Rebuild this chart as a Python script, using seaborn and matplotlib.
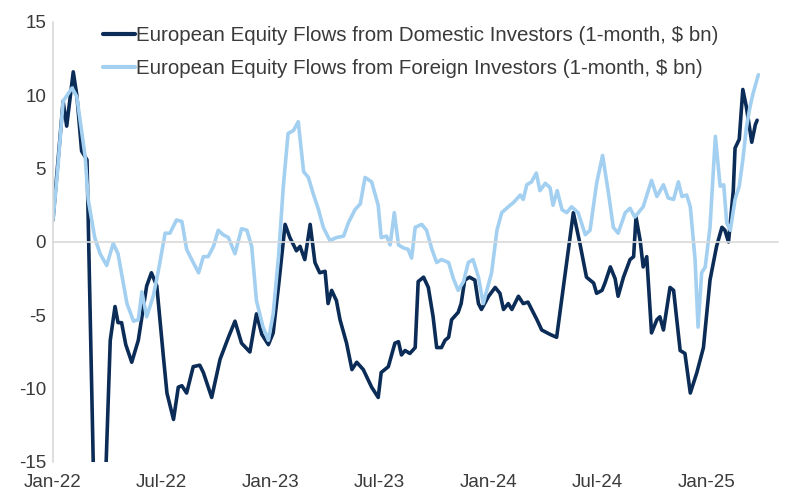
import numpy as np
import pandas as pd
import matplotlib
matplotlib.use("Agg")
import matplotlib.pyplot as plt
import matplotlib.dates as mdates
import seaborn as sns

START = "2022-01-01"

dom_days = [0, 17, 23, 34, 40, 48, 57, 70, 78, 85, 96, 104, 109, 115, 122, 132, 143, 157, 165, 174,
            185, 191, 202, 210, 216, 224, 235, 246, 252, 266, 280, 294, 305, 316, 330, 341, 350, 361,
            369, 378, 389, 397, 408, 414, 422, 431, 439, 447, 456, 461, 467, 475, 481, 492, 501, 509,
            520, 534, 545, 550, 562, 573, 579, 584, 590, 598, 607, 612, 621, 629, 637, 643, 651, 657,
            663, 668, 679, 684, 690, 698, 707, 713, 718, 730, 741, 749, 755, 763, 769, 780, 788, 796,
            811, 819, 833, 844, 872, 883, 894, 906, 911, 920, 925, 934, 942, 947, 956, 967, 973, 977,
            984, 989, 995, 1003, 1012, 1017, 1023, 1034, 1040, 1051, 1059, 1068, 1079, 1090, 1101,
            1112, 1121, 1126, 1132, 1140, 1143, 1150, 1156, 1162, 1171, 1177, 1180]
dom_vals = [1.5, 9.6, 7.9, 11.6, 10.0, 6.2, 5.6, -20.0, -22.0, -20.0, -6.7, -4.4, -5.5, -5.5, -7.0,
            -8.2, -6.7, -3.0, -2.1, -3.0, -7.8, -10.3, -12.1, -9.9, -9.8, -10.3, -8.5, -8.4, -8.9,
            -10.6, -8.0, -6.5, -5.4, -6.9, -7.5, -4.9, -6.3, -7.0, -6.2, -3.0, 1.2, 0.3, -0.6, -0.3,
            -1.2, 1.2, -1.4, -2.1, -2.0, -4.2, -3.3, -4.0, -5.3, -6.9, -8.7, -8.2, -8.7, -9.9, -10.6,
            -8.9, -8.5, -6.9, -6.8, -7.7, -7.4, -7.6, -7.2, -2.7, -2.4, -3.1, -5.1, -7.2, -7.2, -6.7,
            -6.5, -5.3, -4.8, -4.2, -2.6, -2.4, -2.6, -4.2, -4.6, -3.7, -3.1, -3.5, -4.6, -4.2, -4.6,
            -3.7, -4.2, -4.1, -5.3, -6.0, -6.3, -6.5, 2.0, -0.1, -2.4, -2.8, -3.5, -3.3, -2.8, -1.7,
            -2.5, -3.7, -2.4, -1.2, -1.0, 1.7, 0.1, -1.7, -1.0, -6.2, -5.3, -5.1, -6.0, -3.1, -3.3,
            -7.4, -7.6, -10.3, -8.9, -7.2, -2.6, -0.3, 1.0, 0.8, 0.0, 3.5, 6.4, 7.0, 10.4, 9.2, 6.8,
            8.0, 8.3]

for_days = [0, 7, 17, 32, 40, 54, 59, 70, 79, 90, 101, 109, 124, 135, 143, 149, 157, 168, 176, 188,
            196, 207, 216, 224, 230, 244, 252, 260, 269, 277, 285, 294, 305, 316, 325, 333, 341, 352,
            361, 369, 378, 386, 394, 403, 411, 420, 428, 436, 445, 453, 464, 475, 487, 495, 506, 515,
            523, 534, 545, 550, 559, 565, 572, 579, 587, 595, 601, 607, 618, 626, 635, 643, 651, 663,
            671, 679, 688, 696, 704, 713, 721, 735, 744, 752, 763, 772, 783, 788, 794, 802, 810, 816,
            825, 833, 838, 845, 853, 861, 869, 880, 892, 900, 911, 921, 931, 939, 947, 959, 967, 975,
            989, 1003, 1012, 1023, 1031, 1040, 1048, 1054, 1062, 1068, 1076, 1081, 1087, 1093, 1101,
            1110, 1118, 1124, 1129, 1135, 1143, 1150, 1156, 1162, 1168, 1173, 1182]
for_vals = [1.5, 4.5, 9.6, 10.5, 9.9, 5.8, 2.9, 0.3, -0.8, -1.6, -0.1, -0.8, -4.2, -5.4, -5.3, -3.4,
            -5.1, -3.7, -2.1, 0.6, 0.6, 1.5, 1.4, -0.5, -1.0, -2.1, -1.0, -1.0, -0.3, 0.8, 0.5, 0.3,
            -0.8, 0.9, 0.8, -0.3, -4.0, -5.8, -6.7, -4.9, -1.0, 3.8, 7.4, 7.6, 8.2, 4.8, 4.4, 3.3,
            2.2, 1.0, 0.1, 0.3, 0.4, 1.3, 2.2, 2.6, 4.4, 4.1, 2.5, 0.3, 0.4, -0.2, 2.0, -0.2, -0.4,
            -0.5, -1.1, 1.0, 1.2, 0.8, -0.5, -1.4, -1.2, -1.4, -2.5, -3.3, -2.7, -1.4, -1.2, -2.4,
            -4.2, -2.1, 0.8, 2.0, 2.4, 2.7, 3.2, 2.9, 3.9, 4.1, 4.7, 3.5, 4.0, 3.7, 2.5, 3.5, 2.2,
            2.0, 2.4, 2.0, 0.5, 0.8, 4.0, 5.9, 3.3, 1.0, 0.6, 2.0, 2.3, 1.7, 2.4, 4.2, 3.1, 3.9, 3.0,
            2.9, 4.1, 3.1, 3.2, 2.4, -1.2, -5.8, -2.1, -1.7, 1.0, 7.2, 3.8, 3.9, 1.3, 0.8, 2.9, 3.8,
            5.6, 7.8, 9.2, 10.1, 11.4]

series_names = ["European Equity Flows from Domestic Investors (1-month, $ bn)",
                "European Equity Flows from Foreign Investors (1-month, $ bn)"]
tick_dates = ["2022-01-01", "2022-07-01", "2023-01-01", "2023-07-01", "2024-01-01",
              "2024-07-01", "2025-01-01"]
tick_labels = ["Jan-22", "Jul-22", "Jan-23", "Jul-23", "Jan-24", "Jul-24", "Jan-25"]
y_ticks = [-15, -10, -5, 0, 5, 10, 15]

start = pd.Timestamp(START)
df_dom = pd.DataFrame({"date": start + pd.to_timedelta(dom_days, unit="D"), "value": dom_vals,
                       "series": series_names[0]})
df_for = pd.DataFrame({"date": start + pd.to_timedelta(for_days, unit="D"), "value": for_vals,
                       "series": series_names[1]})
df = pd.concat([df_dom, df_for], ignore_index=True)

sns.set_theme(style="white")
plt.rcParams["font.family"] = ["Liberation Sans", "DejaVu Sans"]

fig = plt.figure(figsize=(7.87, 4.95), dpi=100)
ax = fig.add_axes([0.0673, 0.0667, 0.9213, 0.8889])

palette = {series_names[0]: "#0b2c57", series_names[1]: "#a3d0f0"}
sns.lineplot(data=df, x="date", y="value", hue="series", palette=palette,
             linewidth=2.6, ax=ax, sort=False, estimator=None)

ax.set_ylim(-15, 15)
ax.set_xlim(start, start + pd.Timedelta(days=1215))
ax.set_yticks(y_ticks)
ax.set_yticklabels([str(v) for v in y_ticks])
ax.set_xlabel("")
ax.set_ylabel("")

grey = "#d9d9d9"
txt = "#3a3a3a"
for s in ["top", "right"]:
    ax.spines[s].set_visible(False)
ax.spines["left"].set_color(grey)
ax.spines["left"].set_linewidth(1.2)
ax.spines["bottom"].set_position(("data", 0))
ax.spines["bottom"].set_color(grey)
ax.spines["bottom"].set_linewidth(1.2)

tpos = pd.to_datetime(tick_dates)
ax.set_xticks(tpos)
ax.tick_params(axis="x", which="both", direction="out", length=4, color=grey,
               labelbottom=False)
ax.tick_params(axis="y", direction="out", length=4, color=grey, labelsize=13.5,
               labelcolor=txt, pad=1)

sec = ax.secondary_xaxis("bottom")
sec.set_xticks(tpos)
sec.set_xticklabels(tick_labels)
sec.tick_params(length=0, labelsize=13.5, labelcolor=txt, pad=9)
sec.spines["bottom"].set_visible(False)

leg = ax.legend(loc="upper left", bbox_to_anchor=(0.058, 1.01), frameon=False,
                fontsize=14.8, handlelength=1.55, handletextpad=0.05, labelspacing=0.7,
                borderaxespad=0)
for t in leg.get_texts():
    t.set_color(txt)
for h in leg.get_lines():
    h.set_linewidth(3.0)

fig.savefig("out.png", dpi=100, facecolor="white")
